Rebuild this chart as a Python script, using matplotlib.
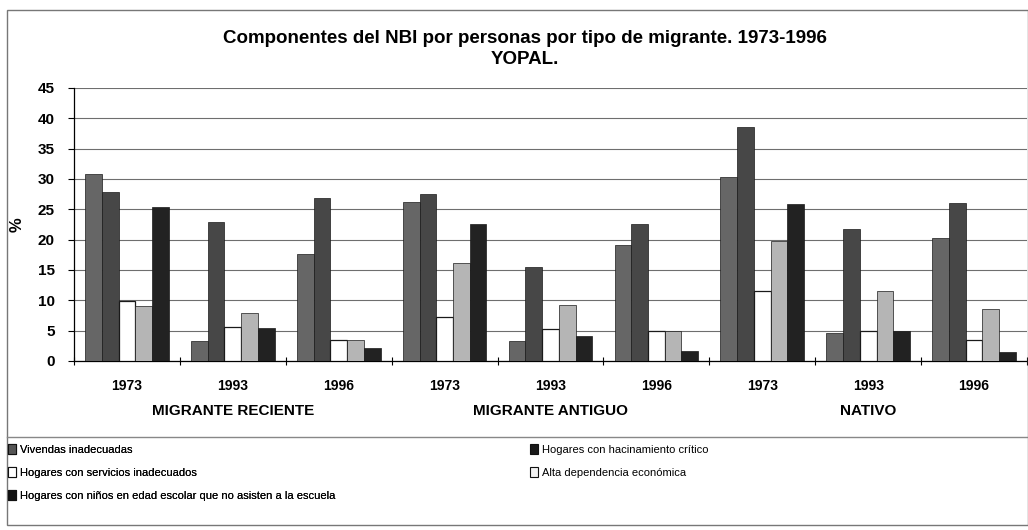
import numpy as np
import matplotlib
matplotlib.use('Agg')
import matplotlib.pyplot as plt
from matplotlib.patches import Patch, Rectangle
from matplotlib.lines import Line2D

#%% data
years = ['1973', '1993', '1996'] * 3
groups = ['MIGRANTE RECIENTE', 'MIGRANTE ANTIGUO', 'NATIVO']

viviendas    = [30.9, 3.3, 17.7, 26.2, 3.3, 19.1, 30.3, 4.6, 20.3]
hacinamiento = [27.9, 22.9, 26.9, 27.6, 15.5, 22.6, 38.5, 21.8, 26.0]
servicios    = [9.9, 5.6, 3.5, 7.3, 5.3, 5.0, 11.5, 5.0, 3.5]
dependencia  = [9.1, 7.9, 3.5, 16.1, 9.3, 4.9, 19.8, 11.6, 8.5]
escuela      = [25.4, 5.4, 2.1, 22.6, 4.1, 1.6, 25.8, 4.9, 1.5]

names = ['Vivendas inadecuadas',
         'Hogares con hacinamiento crítico',
         'Hogares con servicios inadecuados',
         'Alta dependencia económica',
         'Hogares con niños en edad escolar que no asisten a la escuela']
series = [viviendas, hacinamiento, servicios, dependencia, escuela]
colors = ['#666666', '#474747', '#ffffff', '#b5b5b5', '#222222']
swatch = ['#555555', '#1a1a1a', '#ffffff', '#f2f2f2', '#111111']

#%%
plt.rcParams['font.family'] = ['Liberation Sans', 'DejaVu Sans']

fig = plt.figure(figsize=(10.28, 5.30), dpi=100)
ax = fig.add_axes([74/1028, 1 - 361/530, 1 - 74/1028 - 0.001, (361 - 88)/530])

x = np.arange(len(years))
w = 0.158
for i, (vals, c) in enumerate(zip(series, colors)):
    ax.bar(x + (i - 2)*w, vals, w, color=c, edgecolor='#1a1a1a',
           linewidth=0.9 if c == '#ffffff' else 0.5, zorder=3, label=names[i])

ax.set_xlim(-0.5, len(years) - 0.5)
ax.set_ylim(0, 45)
ax.set_yticks(range(0, 46, 5))
ax.yaxis.grid(True, color='#6e6e6e', linewidth=0.8, zorder=0)
ax.set_xticks(x)
ax.set_xticklabels(years, fontsize=10, fontweight='bold')
ax.tick_params(axis='x', length=0, pad=13)
ax.set_xticks(np.arange(-0.5, len(years), 1), minor=True)
ax.tick_params(axis='x', which='minor', length=6, direction='inout', width=0.8)
ax.tick_params(axis='y', length=4, width=0.8, pad=10, labelsize=11)
for t in ax.get_yticklabels():
    t.set_fontweight('bold')
ax.set_ylabel('%', fontsize=12, fontweight='bold', labelpad=9)
for s in ['top', 'right']:
    ax.spines[s].set_visible(False)
ax.spines['left'].set_linewidth(0.9)
ax.spines['bottom'].set_linewidth(0.9)

for k, g in enumerate(groups):
    ax.text(3*k + 1, -8.3, g, ha='center', va='center', fontsize=11,
            fontweight='bold', transform=ax.transData)

fig.text(0.511, 0.928, 'Componentes del NBI por personas por tipo de migrante. 1973-1996',
         ha='center', va='center', fontsize=13.5, fontweight='bold')
fig.text(0.511, 0.887, 'YOPAL.', ha='center', va='center', fontsize=13.5, fontweight='bold')

# frame round the chart and the legend
fig.patches.append(Rectangle((7/1028, 5/530), 1 - 7/1028, 515/530, transform=fig.transFigure,
                             fill=False, edgecolor='#777777', linewidth=1))
fig.lines.append(Line2D([7/1028, 1], [1 - 437/530]*2, transform=fig.transFigure,
                        color='#888888', linewidth=1))

handles = [Patch(facecolor=swatch[i], edgecolor='#111111', linewidth=0.8) for i in range(5)]
lfont = {'family': ['Liberation Sans', 'DejaVu Sans'], 'size': 8}
leg1 = fig.legend([handles[0], handles[2], handles[4]], [names[0], names[2], names[4]],
                  loc='upper left', bbox_to_anchor=(4/1028, 1 - 440/530), frameon=False,
                  prop=lfont, handlelength=0.7, handleheight=1.0, handletextpad=0.3,
                  labelspacing=1.08, borderaxespad=0)
fig.add_artist(leg1)
fig.legend([handles[1], handles[3]], [names[1], names[3]],
           loc='upper left', bbox_to_anchor=(526/1028, 1 - 440/530), frameon=False,
           prop=lfont, handlelength=0.7, handleheight=1.0, handletextpad=0.3,
           labelspacing=1.08, borderaxespad=0)

fig.savefig('out.png', dpi=100)
